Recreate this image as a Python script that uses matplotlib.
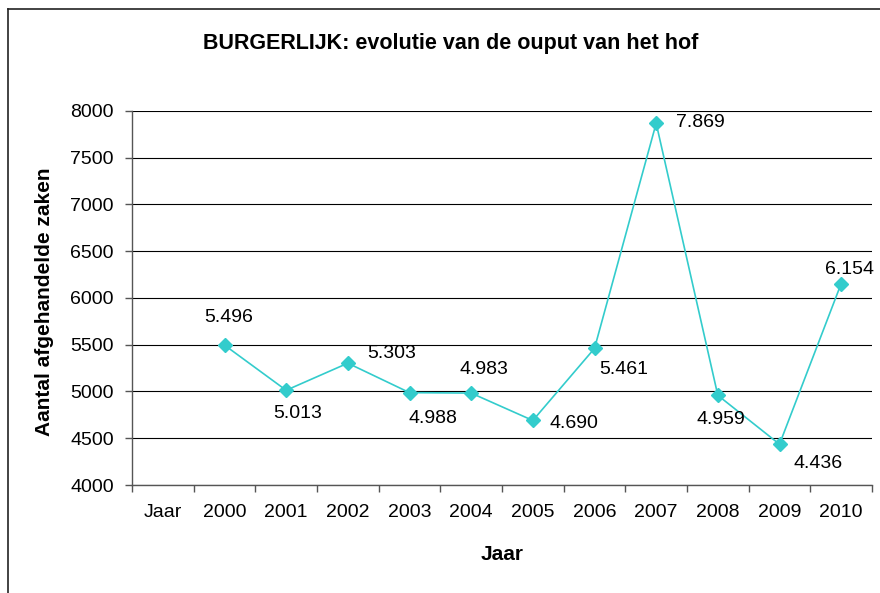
import matplotlib
matplotlib.use("Agg")
import matplotlib.pyplot as plt
from matplotlib.lines import Line2D

plt.rcParams['font.family'] = ['Liberation Sans', 'DejaVu Sans']

categories = ["Jaar", "2000", "2001", "2002", "2003", "2004", "2005",
              "2006", "2007", "2008", "2009", "2010"]
years = ["2000", "2001", "2002", "2003", "2004", "2005",
         "2006", "2007", "2008", "2009", "2010"]
values = [5496, 5013, 5303, 4988, 4983, 4690, 5461, 7869, 4959, 4436, 6154]
y_ticks = [4000, 4500, 5000, 5500, 6000, 6500, 7000, 7500, 8000]

title = "BURGERLIJK: evolutie van de ouput van het hof"
x_label = "Jaar"
y_label = "Aantal afgehandelde zaken"

# label offsets in pixels (dx, dy)
label_offsets = [(4, 28), (12, -23), (44, 10), (23, -26), (13, 24), (41, -3),
                 (29, -21), (44, 1), (3, -24), (39, -19), (8, 14)]

W, H = 880, 593
fig = plt.figure(figsize=(W / 100, H / 100), dpi=100)
ax = fig.add_axes([132 / W, 1 - 485 / H, (872 - 132) / W, (485 - 111) / H])

xpos = [categories.index(y) for y in years]
color = "#33CCCC"
ax.plot(xpos, values, color=color, lw=1.2, marker="D", ms=7,
        mec=color, mfc=color, zorder=3, clip_on=False)

fs = 14
for x, v, (dx, dy) in zip(xpos, values, label_offsets):
    txt = f"{v:,}".replace(",", ".")
    ax.annotate(txt, (x, v), xytext=(dx, dy), textcoords="offset pixels",
                ha="center", va="center", fontsize=fs, color="black")

ax.set_xlim(-0.5, len(categories) - 0.5)
ax.set_ylim(4000, 8000)
ax.set_yticks(y_ticks)
ax.set_yticklabels([str(t) for t in y_ticks], fontsize=fs)
ax.set_xticks(range(len(categories)))
ax.set_xticklabels(categories, fontsize=fs)
ax.set_xticks([i - 0.5 for i in range(len(categories) + 1)], minor=True)
ax.tick_params(axis="x", which="major", length=0, pad=14)
ax.tick_params(axis="x", which="minor", length=5, width=1, color="#555555", direction="out")
ax.tick_params(axis="y", length=5, width=1, color="#555555", direction="out", pad=8)

ax.grid(axis="y", color="black", lw=0.8)
ax.set_axisbelow(True)
for s in ["top", "right"]:
    ax.spines[s].set_visible(False)
for s in ["left", "bottom"]:
    ax.spines[s].set_color("#555555")
    ax.spines[s].set_linewidth(1)

fig.text(451 / W, 1 - 43 / H, title, ha="center", va="center",
         fontsize=15.5, fontweight="bold")
fig.text(502 / W, 1 - 554 / H, x_label, ha="center", va="center",
         fontsize=15, fontweight="bold")
fig.text(45 / W, 1 - 302 / H, y_label, ha="center", va="center",
         fontsize=15, fontweight="bold", rotation=90)

# outer chart frame (left and top edges visible)
fig.add_artist(Line2D([8 / W, 8 / W], [0, 1 - 9 / H], transform=fig.transFigure,
                      color="#222222", lw=1.2))
fig.add_artist(Line2D([8 / W, 1], [1 - 9 / H, 1 - 9 / H], transform=fig.transFigure,
                      color="#222222", lw=1.2))

fig.savefig("out.png", dpi=100, facecolor="white")
